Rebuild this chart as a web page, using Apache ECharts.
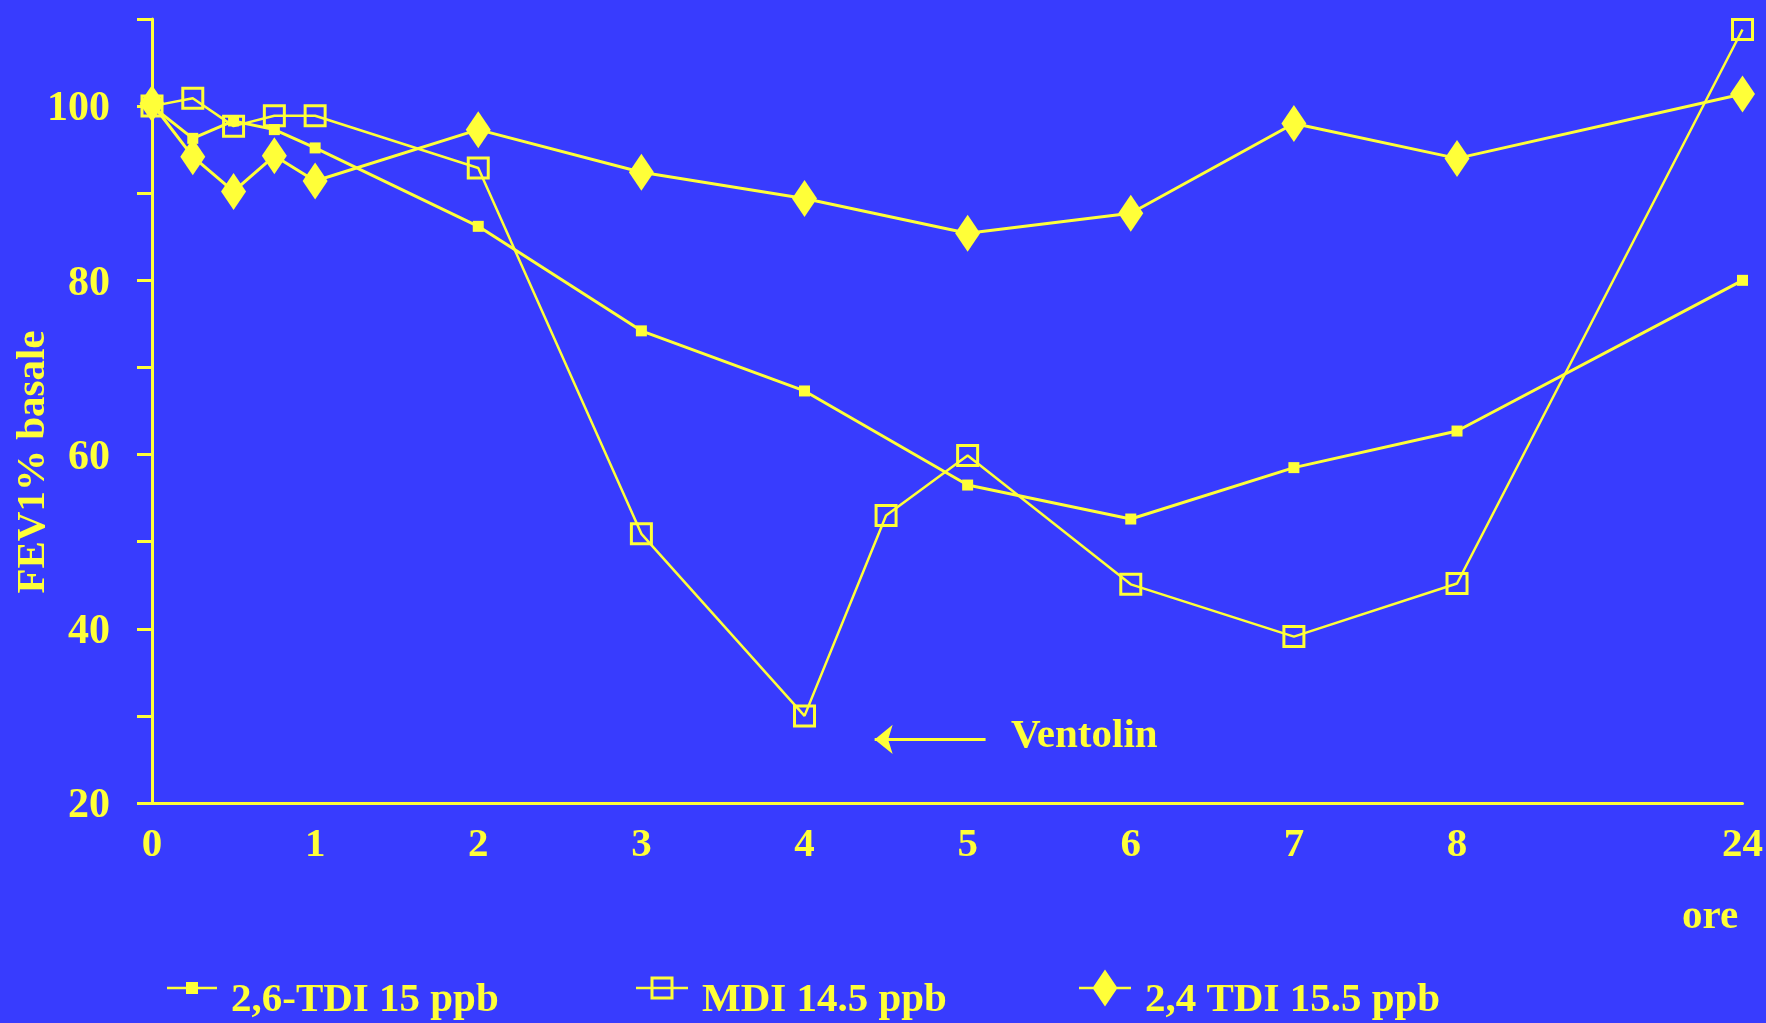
<!DOCTYPE html>
<html>
<head>
<meta charset="utf-8">
<script src="https://cdn.jsdelivr.net/npm/echarts@6/dist/echarts.min.js"></script>
<style>
html, body { margin: 0; padding: 0; background: #383cfe; }
#chart { width: 1766px; height: 1023px; }
</style>
</head>
<body>
<div id="chart"></div>
<script>
// ---------- data ----------
const hours     = [0, 0.25, 0.5, 0.75, 1, 2, 3, 4, 5, 6, 7, 8, 24];
const hoursMDI  = [0, 0.25, 0.5, 0.75, 1, 2, 3, 4, 4.5, 5, 6, 7, 8, 24];
const tdi26     = [100, 96.3, 98.3, 97.3, 95.2, 86.2, 74.2, 67.3, 56.5, 52.6, 58.5, 62.7, 80.0];
const mdi       = [100, 100.9, 97.7, 98.9, 98.9, 92.9, 50.9, 30.0, 53.0, 59.9, 45.1, 39.1, 45.2, 108.8];
const tdi24     = [100.3, 94.2, 90.2, 94.3, 91.4, 97.3, 92.4, 89.4, 85.4, 87.7, 98.0, 94.0, 101.4];
const seriesNames = ['2,6-TDI 15 ppb', 'MDI 14.5 ppb', '2,4 TDI 15.5 ppb'];
const xTickHours  = [0, 1, 2, 3, 4, 5, 6, 7, 8, 24];
const xTickLabels = ['0', '1', '2', '3', '4', '5', '6', '7', '8', '24'];
const yTickLabels = [20, 40, 60, 80, 100];
const yAxisTitle = 'FEV1% basale';
const xAxisTitle = 'ore';
const noteText = 'Ventolin';

// ---------- style ----------
const Y = '#ffff38';
const BG = '#383cfe';
const FONT = '"Liberation Serif", "DejaVu Serif", serif';

// broken time axis: 8h -> 24h squeezed into 1.75 units
function pos(h) { return h <= 8 ? h : 8 + 1.75 * (h - 8) / 16; }
const xTickPos = xTickHours.map(pos);

const icons = [
  'path://M0,4.75h50v2.5h-50zM19,0h12v12h-12z',
  'path://M0,10.25h52v2.5h-52zM14.5,0h23v23h-23zM17.5,3v17h17v-17z',
  'path://M0,17.25h52v2.5h-52zM26,0L38.5,18.5L26,37L13.5,18.5z'
];
const legendLeft = [167, 636, 1079];
const legendW = [50, 52, 52];
const legendH = [12, 23, 37];

const chart = echarts.init(document.getElementById('chart'));
chart.setOption({
  backgroundColor: BG,
  animation: false,
  textStyle: { fontFamily: FONT },
  grid: { left: 152, right: 20.5, top: 19, bottom: 220, containLabel: false },
  xAxis: {
    type: 'value', min: 0, max: pos(24),
    axisLine: { lineStyle: { color: Y, width: 3 } },
    axisTick: { show: false },
    splitLine: { show: false },
    axisLabel: {
      customValues: xTickPos,
      color: Y, fontSize: 41, fontWeight: 'bold', fontFamily: FONT, margin: 22,
      formatter: function (v) {
        const i = xTickPos.findIndex(p => Math.abs(p - v) < 1e-6);
        return i >= 0 ? xTickLabels[i] : '';
      }
    }
  },
  yAxis: {
    type: 'value', min: 20, max: 110, interval: 10,
    axisLine: { show: true, lineStyle: { color: Y, width: 3 } },
    axisTick: { show: true, length: 15, inside: false, lineStyle: { color: Y, width: 3 } },
    splitLine: { show: false },
    axisLabel: {
      color: Y, fontSize: 42, fontWeight: 'bold', fontFamily: FONT, margin: 42,
      formatter: function (v) { return yTickLabels.indexOf(v) >= 0 ? '{s| }\n{a|' + v + '}' : ''; },
      rich: {
        s: { fontSize: 6, lineHeight: 7 },
        a: { color: Y, fontSize: 42, fontWeight: 'bold', fontFamily: FONT, lineHeight: 44 }
      }
    }
  },
  legend: seriesNames.map((n, i) => ({
    data: [{ name: n, icon: icons[i] }],
    left: legendLeft[i], top: 961, padding: 0,
    itemWidth: legendW[i], itemHeight: legendH[i],
    selectedMode: false,
    itemStyle: { color: Y, borderWidth: 0 },
    formatter: function (name) { return '{s| }\n{a|' + name + '}'; },
    textStyle: {
      color: Y, fontSize: 41, fontWeight: 'bold', fontFamily: FONT,
      rich: {
        s: { fontSize: 10, lineHeight: 24 },
        a: { color: Y, fontSize: 41, fontWeight: 'bold', fontFamily: FONT, lineHeight: 44, padding: [0, 0, 0, 9] }
      }
    }
  })),
  series: [
    {
      name: seriesNames[0], type: 'line',
      data: hours.map((h, i) => [pos(h), tdi26[i]]),
      symbol: 'rect', symbolSize: 11,
      itemStyle: { color: Y },
      lineStyle: { color: Y, width: 3 },
      z: 2
    },
    {
      name: seriesNames[1], type: 'line',
      data: hoursMDI.map((h, i) => [pos(h), mdi[i]]),
      symbol: 'rect', symbolSize: 20,
      itemStyle: { color: 'rgba(0,0,0,0)', borderColor: Y, borderWidth: 3 },
      lineStyle: { color: Y, width: 2.5 },
      z: 3,
      markLine: {
        silent: true, animation: false,
        symbol: ['none', 'arrow'], symbolSize: [22, 18],
        label: { show: false },
        lineStyle: { color: Y, width: 3, type: 'solid' },
        data: [[ { coord: [5.11, 27.3] }, { coord: [4.43, 27.3] } ]]
      }
    },
    {
      name: seriesNames[2], type: 'line',
      data: hours.map((h, i) => [pos(h), tdi24[i]]),
      symbol: 'diamond', symbolSize: [25, 37],
      itemStyle: { color: Y },
      lineStyle: { color: Y, width: 3 },
      z: 4
    }
  ],
  graphic: [
    { type: 'text', x: 33, y: 462, rotation: Math.PI / 2,
      style: { text: yAxisTitle, fill: Y, font: 'bold 41px ' + FONT, textAlign: 'center', textVerticalAlign: 'middle' } },
    { type: 'text', x: 1710, y: 917,
      style: { text: xAxisTitle, fill: Y, font: 'bold 41px ' + FONT, textAlign: 'center', textVerticalAlign: 'middle' } },
    { type: 'text', x: 1011, y: 736,
      style: { text: noteText, fill: Y, font: 'bold 41px ' + FONT, textAlign: 'left', textVerticalAlign: 'middle' } }
  ]
});
</script>
</body>
</html>
